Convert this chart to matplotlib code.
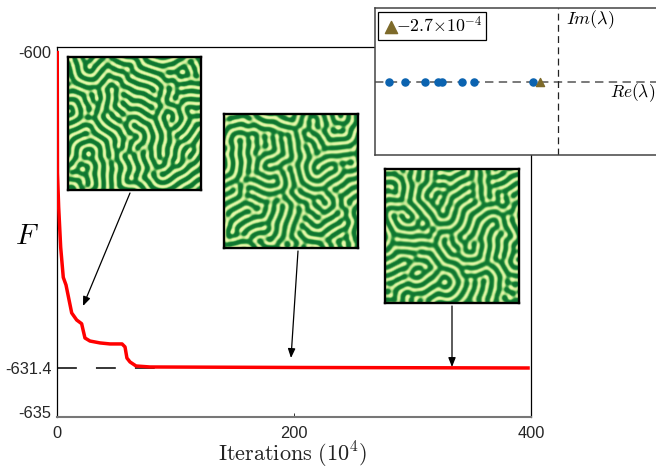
import numpy as np
import matplotlib
matplotlib.use("Agg")
import matplotlib.pyplot as plt
from matplotlib.colors import LinearSegmentedColormap
from matplotlib.transforms import ScaledTranslation

plt.rcParams['font.family'] = ['Liberation Sans', 'DejaVu Sans']
plt.rcParams['mathtext.fontset'] = 'cm'

iterations = [0.2, 0.4, 1.4, 3.1, 5.3, 7.6, 12.4, 16.6, 20.8, 22.0, 23.6, 27.8, 36.3, 44.7, 54.9, 57.4, 59, 61.6, 66.7, 78.5, 205, 397.5]
energy = [-600.05, -612.0, -615.4, -619.4, -622.4, -623.15, -625.93, -626.63, -627.0, -627.62, -628.42, -628.72,
          -628.91, -629.01, -629.01, -629.31, -630.41, -630.80, -631.2, -631.3, -631.35, -631.4]
x_ticks = [0, 200, 400]
y_ticks = [-635, -631.4, -600]
y_tick_labels = ['-635', '-631.4', '-600']
eig_re = [-25.4, -22.9, -20.0, -18.0, -17.4, -14.4, -12.6, -3.75]
eig_unstable = [-2.7]

W, H = 656, 468
fig = plt.figure(figsize=(W / 100, H / 100), dpi=100)

def box(x0, y0, x1, y1):
    return [x0 / W, 1 - y1 / H, (x1 - x0) / W, (y1 - y0) / H]

def fp(x, y):
    return (x / W, 1 - y / H)

ax = fig.add_axes(box(57, 47, 531, 416.5))
knots_v = np.array([-635, -631.4, -599.0])
knots_p = np.array([0, 48.5, 48.5 + 32.4 * 10.06])
ax.set_yscale('function', functions=(lambda v: np.interp(v, knots_v, knots_p),
                                     lambda p: np.interp(p, knots_p, knots_v)))
ax.plot(iterations, energy, color='#ff0000', lw=2.5, zorder=3, solid_joinstyle='round')
ax.plot([0, 83], [-631.4, -631.4], color='black', lw=1.1, dashes=(13, 12.5), zorder=2)
ax.set_xlim(0, 400)
ax.set_ylim(-635, -599.5)
ax.set_xticks(x_ticks)
ax.set_yticks(y_ticks)
ax.set_yticklabels(y_tick_labels)
ax.minorticks_off()
ax.tick_params(labelsize=11.8, labelcolor='#262626')
ax.tick_params(axis='y', pad=4, length=0)
ax.tick_params(axis='x', pad=6.5, length=3, direction='in', width=0.7, color='#333333')
for s in ['left', 'right', 'top']:
    ax.spines[s].set_linewidth(0.9)
ax.spines['bottom'].set_color('#777777')
ax.spines['bottom'].set_linewidth(1.5)
for lab, dy in zip(ax.get_yticklabels(), [4, 0, 0]):
    lab.set_transform(lab.get_transform() + ScaledTranslation(0, dy / 100, fig.dpi_scale_trans))
fig.text(*fp(293, 454.5), r'$\mathrm{Iterations}\ (10^4)$', fontsize=16, ha='center', va='center', color='#222222')
fig.text(*fp(27, 236), r'$F$', fontsize=21, ha='center', va='center')

# Labyrinth textures (decorative)
def labyrinth(seed, n=133, period=8.0, steps=70):
    g = np.random.default_rng(seed)
    u = 0.1 * g.standard_normal((n, n))
    k = 2 * np.pi * np.fft.fftfreq(n)
    kx, ky = np.meshgrid(k, k)
    k2 = (kx ** 2 + ky ** 2) / (2 * np.pi / period) ** 2
    L = 0.5 - (1 - k2) ** 2
    dt = 0.5
    den = 1 - dt * L
    for _ in range(steps):
        u = np.real(np.fft.ifft2((np.fft.fft2(u) - dt * np.fft.fft2(u ** 3)) / den))
    return u / np.abs(u).max()

cmap = LinearSegmentedColormap.from_list('lab', ['#0f7530', '#147c33', '#3f9f49', '#9fd67c', '#e6f8aa'])
for (x0, y0, x1, y1), sd in zip([(68, 57, 201, 190), (224, 114, 358, 248), (385, 169, 519, 303)], [3, 7, 11]):
    a = fig.add_axes(box(x0, y0, x1, y1), zorder=4)
    a.imshow(labyrinth(sd), cmap=cmap, vmin=-0.7, vmax=0.7, interpolation='bilinear', aspect='auto')
    a.set_xticks([]); a.set_yticks([])
    for s in a.spines.values():
        s.set_linewidth(1.7)
        s.set_color('black')

# Arrows
overlay = fig.add_axes([0, 0, 1, 1], zorder=5)
overlay.axis('off')
overlay.set_xlim(0, W); overlay.set_ylim(H, 0)
for start, end in [((130, 193), (83, 306)), ((298, 251), (291, 358)), ((452, 306), (452, 367))]:
    overlay.annotate('', xy=end, xytext=start, xycoords='data', textcoords='data',
                     arrowprops=dict(arrowstyle='-|>,head_width=0.22,head_length=0.55', color='black',
                                     lw=0.9, shrinkA=0, shrinkB=0))

# Inset spectrum
ins = fig.add_axes(box(375, 8, 670, 155.5), zorder=6)
ins.set_xlim((375 - 558) * 0.15, (670 - 558) * 0.15)
ins.set_ylim(-1, 1)
ins.axhline(0, color='#555555', lw=1.1, dashes=(5.5, 3.5), zorder=1)
ins.axvline(0, color='#222222', lw=0.9, dashes=(5.5, 3.5), zorder=1)
ins.scatter(eig_re, np.zeros(len(eig_re)), s=26, color='#0b63b0', zorder=3)
tri = ins.scatter(eig_unstable, [0], s=34, marker='^', color='#7d6a2a', zorder=3,
                  label=r'$\mathbf{-}2.7{\times}10^{-4}$')
ins.set_xticks([]); ins.set_yticks([])
for s in ins.spines.values():
    s.set_linewidth(1.1)
    s.set_color('#444444')
leg = ins.legend(handles=[tri], loc='lower left', bbox_to_anchor=fp(378, 39.5), fontsize=12.8,
                 bbox_transform=fig.transFigure, frameon=True, fancybox=False, edgecolor='black', framealpha=1,
                 borderaxespad=0, borderpad=0.2, handletextpad=-0.25, handlelength=1.05, scatterpoints=1,
                 markerscale=1.5)
leg.get_frame().set_linewidth(0.9)
fig.text(*fp(590, 20), r'$Im(\lambda)$', fontsize=13, ha='center', va='center', zorder=7)
fig.text(*fp(633, 93), r'$Re(\lambda)$', fontsize=12.5, ha='center', va='center', zorder=7)

fig.savefig('out.png', dpi=100)
